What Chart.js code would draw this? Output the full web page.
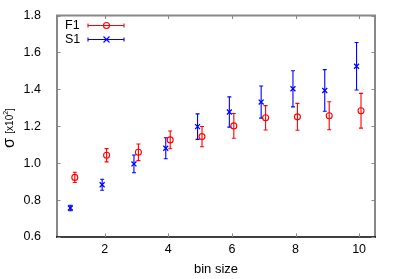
<!DOCTYPE html>
<html><head><meta charset="utf-8">
<script src="https://cdn.jsdelivr.net/npm/chart.js@4.4.1/dist/chart.umd.min.js"></script>
<style>html,body{margin:0;padding:0;background:#fff}#wrap{width:399px;height:279px}</style>
</head><body><div id="wrap"><canvas id="c" width="399" height="279"></canvas></div>
<script>
// Data
const seriesNames = ["F1", "S1"];
const f1X = [1.06, 2.06, 3.06, 4.06, 5.06, 6.06, 7.06, 8.06, 9.06, 10.06];
const f1Y = [0.923, 1.043, 1.059, 1.126, 1.144, 1.202, 1.246, 1.251, 1.257, 1.284];
const f1Err = [0.028, 0.036, 0.045, 0.048, 0.055, 0.067, 0.066, 0.073, 0.076, 0.094];
const s1X = [0.92, 1.92, 2.92, 3.92, 4.92, 5.92, 6.92, 7.92, 8.92, 9.92];
const s1Y = [0.757, 0.883, 0.996, 1.081, 1.198, 1.277, 1.331, 1.403, 1.394, 1.525];
const s1Err = [0.015, 0.030, 0.048, 0.057, 0.069, 0.082, 0.087, 0.098, 0.113, 0.129];
const xTicks = [2, 4, 6, 8, 10];
const yTicks = [0.6, 0.8, 1.0, 1.2, 1.4, 1.6, 1.8];
const xTitle = "bin size";

const RED = "#ff0000", BLUE = "#0000ff";
const FONT = "'Liberation Sans', Arial, sans-serif";

function pts(xs, ys) { return xs.map((x, i) => ({x: x, y: ys[i]})); }

const errorBars = {
  id: 'errorBars',
  beforeDatasetsDraw(chart) {
    const {ctx, scales: {x, y}} = chart;
    const sets = [[f1X, f1Y, f1Err, RED], [s1X, s1Y, s1Err, BLUE]];
    ctx.save();
    ctx.lineWidth = 1.1;
    for (const [xs, ys, es, col] of sets) {
      ctx.strokeStyle = col;
      xs.forEach((xv, i) => {
        const px = x.getPixelForValue(xv);
        const p1 = y.getPixelForValue(ys[i] - es[i]);
        const p2 = y.getPixelForValue(ys[i] + es[i]);
        ctx.beginPath();
        ctx.moveTo(px, p1); ctx.lineTo(px, p2);
        ctx.moveTo(px - 2, p1); ctx.lineTo(px + 2, p1);
        ctx.moveTo(px - 2, p2); ctx.lineTo(px + 2, p2);
        ctx.stroke();
      });
    }
    ctx.restore();
  },
  afterDraw(chart) {
    const {ctx, chartArea: a, scales: {x, y}} = chart;
    ctx.save();
    // frame
    ctx.strokeStyle = "#888";
    ctx.lineWidth = 2;
    ctx.beginPath();
    ctx.moveTo(a.left, a.bottom); ctx.lineTo(a.left, a.top); ctx.lineTo(a.right, a.top); ctx.lineTo(a.right, a.bottom);
    ctx.stroke();
    ctx.strokeStyle = "#000";
    ctx.lineWidth = 1.5;
    ctx.beginPath(); ctx.moveTo(a.left - 1, a.bottom); ctx.lineTo(a.right + 1, a.bottom); ctx.stroke();
    // inward ticks
    ctx.strokeStyle = "#888";
    ctx.lineWidth = 1;
    ctx.beginPath();
    yTicks.forEach(v => {
      const py = Math.round(y.getPixelForValue(v)) + 0.5;
      ctx.moveTo(a.left, py); ctx.lineTo(a.left + 3.5, py);
      ctx.moveTo(a.right, py); ctx.lineTo(a.right - 3.5, py);
    });
    xTicks.forEach(v => {
      const px = Math.round(x.getPixelForValue(v)) + 0.5;
      ctx.moveTo(px, a.bottom); ctx.lineTo(px, a.bottom - 3.5);
      ctx.moveTo(px, a.top); ctx.lineTo(px, a.top + 3.5);
    });
    ctx.stroke();
    // legend
    const rows = [[seriesNames[0], RED, 'circle', 25.5], [seriesNames[1], BLUE, 'x', 39.5]];
    ctx.font = "12.5px " + FONT;
    ctx.textBaseline = "middle";
    ctx.textAlign = "left";
    for (const [name, col, shape, ly] of rows) {
      ctx.fillStyle = "#000";
      ctx.fillText(name, 65, ly);
      ctx.strokeStyle = col;
      ctx.lineWidth = 1.1;
      ctx.beginPath();
      ctx.moveTo(88, ly); ctx.lineTo(124, ly);
      ctx.moveTo(88, ly - 2); ctx.lineTo(88, ly + 2);
      ctx.moveTo(124, ly - 2); ctx.lineTo(124, ly + 2);
      ctx.stroke();
      ctx.beginPath();
      if (shape === 'circle') {
        ctx.arc(106.5, ly, 3, 0, Math.PI * 2);
      } else {
        ctx.moveTo(103.5, ly - 3); ctx.lineTo(109.5, ly + 3);
        ctx.moveTo(103.5, ly + 3); ctx.lineTo(109.5, ly - 3);
      }
      ctx.stroke();
    }
    // y title
    ctx.translate(14, 148);
    ctx.rotate(-Math.PI / 2);
    ctx.fillStyle = "#000";
    ctx.textBaseline = "alphabetic";
    ctx.font = "16px " + FONT;
    ctx.fillText("σ", 0, 0);
    let cx = ctx.measureText("σ ").width;
    ctx.font = "10px " + FONT;
    ctx.fillText("[x10", cx, -1);
    cx += ctx.measureText("[x10").width;
    ctx.font = "7px " + FONT;
    ctx.fillText("2", cx, -6);
    cx += ctx.measureText("2").width;
    ctx.font = "10px " + FONT;
    ctx.fillText("]", cx, -1);
    ctx.restore();
  }
};

new Chart(document.getElementById('c'), {
  type: 'scatter',
  data: {
    datasets: [
      {label: seriesNames[0], data: pts(f1X, f1Y), pointStyle: 'circle', radius: 3, borderColor: RED, backgroundColor: 'rgba(0,0,0,0)', borderWidth: 1.1, showLine: false},
      {label: seriesNames[1], data: pts(s1X, s1Y), pointStyle: 'crossRot', radius: 3.5, borderColor: BLUE, backgroundColor: BLUE, borderWidth: 1.3, showLine: false}
    ]
  },
  options: {
    responsive: false,
    animation: false,
    events: [],
    layout: {padding: {top: 15, right: 24, bottom: 0, left: 0}},
    plugins: {legend: {display: false}, tooltip: {enabled: false}},
    scales: {
      x: {
        type: 'linear', min: 0.5, max: 10.5,
        afterBuildTicks: s => { s.ticks = xTicks.map(v => ({value: v})); },
        afterFit: s => { s.height = 42; },
        grid: {display: false}, border: {display: false},
        ticks: {color: '#000', font: {family: FONT, size: 12.5}, padding: -3},
        title: {display: true, text: xTitle, color: '#000', font: {family: FONT, size: 13}, padding: {top: 3, bottom: 2}}
      },
      y: {
        type: 'linear', min: 0.6, max: 1.8,
        afterBuildTicks: s => { s.ticks = yTicks.map(v => ({value: v})); },
        afterFit: s => { s.width = 57; },
        grid: {display: false}, border: {display: false},
        ticks: {color: '#000', font: {family: FONT, size: 12.5}, padding: 8, callback: v => v.toFixed(1)}
      }
    }
  },
  plugins: [errorBars]
});
</script></body></html>
